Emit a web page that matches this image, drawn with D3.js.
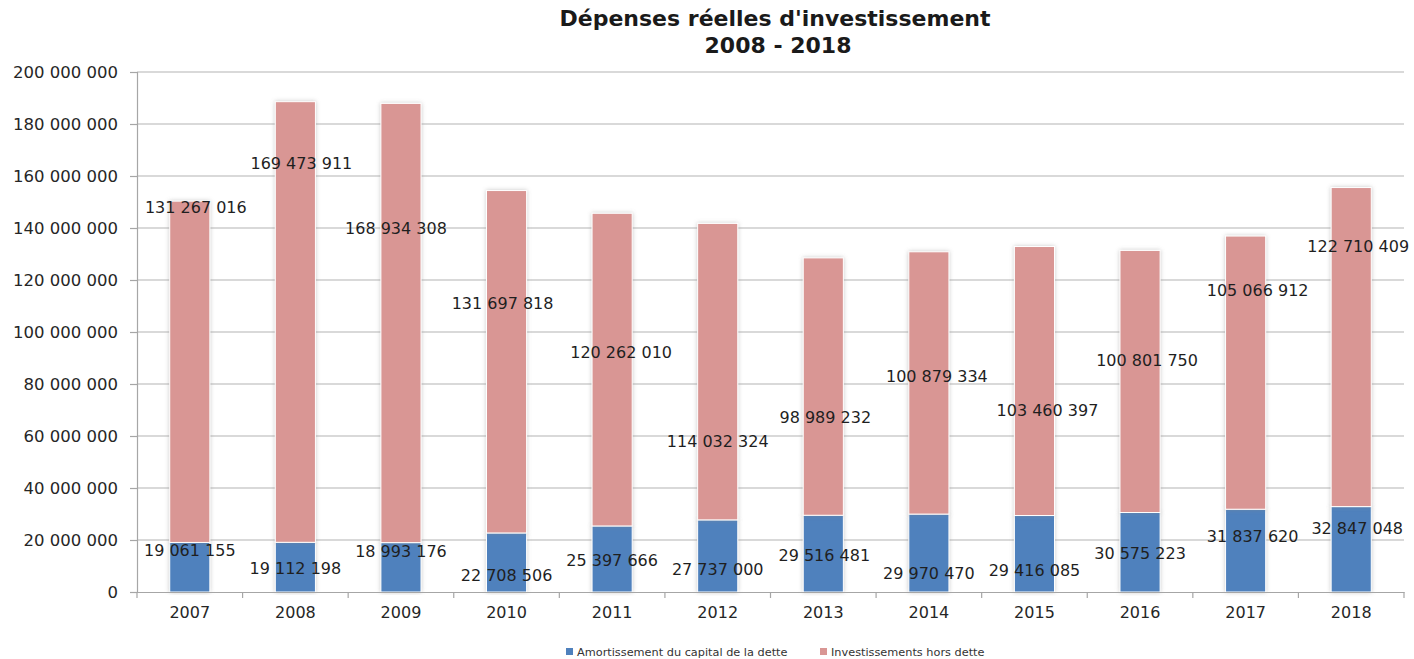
<!DOCTYPE html>
<html>
<head>
<meta charset="utf-8">
<script src="https://cdn.jsdelivr.net/npm/d3@7"></script>
<style>
    body { margin: 0; background: #fff; }
    svg { display: block; }
</style>
</head>
<body>
<script>
// Données
const annees = ["2007", "2008", "2009", "2010", "2011", "2012", "2013", "2014", "2015", "2016", "2017", "2018"];
const amortissement = [19061155, 19112198, 18993176, 22708506, 25397666, 27737000, 29516481, 29970470, 29416085, 30575223, 31837620, 32847048];
const investissements = [131267016, 169473911, 168934308, 131697818, 120262010, 114032324, 98989232, 100879334, 103460397, 100801750, 105066912, 122710409];
const graduations = [0, 20000000, 40000000, 60000000, 80000000, 100000000, 120000000, 140000000, 160000000, 180000000, 200000000];
const series = ["Amortissement du capital de la dette", "Investissements hors dette"];

// position des étiquettes (déplacées à la main dans l'original), en unités de l'axe
const posEtiqInvest = [148e6, 165e6, 140e6, 111e6, 92e6, 58e6, 67e6, 83e6, 70e6, 89e6, 116e6, 133e6];
const decalEtiqInvest = [6, 6, -5, -4, 9, 0, 2, 8, 13, 7, 12, 7];
const posEtiqAmort = [15.8e6, 9.2e6, 15.4e6, 6.2e6, 12.3e6, 8.8e6, 14.2e6, 7.3e6, 8.1e6, 15e6, 21.5e6, 24.6e6];
const decalEtiqAmort = [0, 0, 0, 0, 0, 0, 1, 0, 0, 0, 7, 6];

const WIDTH = 1414;
const HEIGHT = 659;
const MARGIN = { top: 72, right: 10, bottom: 67, left: 137 };
const COULEURS = ["#4f81bd", "#d99694"];
const POLICE = "'DejaVu Sans', Verdana, sans-serif";

const locale = d3.formatLocale({ decimal: ",", thousands: " ", grouping: [3], currency: ["", " €"] });
const fmt = locale.format(",");

const svg = d3.select("body")
    .append("svg")
    .attr("width", WIDTH)
    .attr("height", HEIGHT)
    .style("font-family", POLICE);

const defs = svg.append("defs");
defs.append("filter")
    .attr("id", "ombre")
    .attr("x", "-30%").attr("y", "-5%").attr("width", "160%").attr("height", "110%")
    .append("feDropShadow")
    .attr("dx", 0).attr("dy", 0)
    .attr("stdDeviation", 2)
    .attr("flood-color", "#888")
    .attr("flood-opacity", 0.45);

const x = d3.scaleBand()
    .domain(annees)
    .range([MARGIN.left, WIDTH - MARGIN.right])
    .paddingInner(0.62)
    .paddingOuter(0.31);

const y = d3.scaleLinear()
    .domain([0, 200000000])
    .range([HEIGHT - MARGIN.bottom, MARGIN.top]);

// Titre
const titre = svg.append("text")
    .attr("x", 776)
    .attr("text-anchor", "middle")
    .attr("font-weight", "bold")
    .attr("font-size", 22)
    .attr("fill", "#1a1a1a");
titre.append("tspan").attr("x", 775).attr("y", 26).text("Dépenses réelles d'investissement");
titre.append("tspan").attr("x", 778).attr("y", 53).text("2008 - 2018");

// Grille horizontale
svg.append("g")
    .selectAll("line")
    .data(graduations.filter(d => d > 0))
    .join("line")
    .attr("x1", MARGIN.left)
    .attr("x2", WIDTH - MARGIN.right)
    .attr("y1", d => y(d))
    .attr("y2", d => y(d))
    .attr("stroke", "#b3b3b3")
    .attr("stroke-width", 1.2);

// Axe Y
const axeY = svg.append("g")
    .attr("transform", `translate(${MARGIN.left},0)`)
    .call(d3.axisLeft(y).tickValues(graduations).tickFormat(fmt).tickSize(7).tickPadding(12));
axeY.select(".domain").attr("stroke", "#a6a6a6").attr("stroke-width", 1.2);
axeY.selectAll(".tick line").attr("stroke", "#a6a6a6").attr("stroke-width", 1.2);
axeY.selectAll("text").attr("font-size", 16.5).attr("fill", "#262626").attr("font-family", POLICE);

// Barres empilées
const donnees = annees.map((a, i) => ({ annee: a, amort: amortissement[i], invest: investissements[i] }));
const pile = d3.stack().keys(["amort", "invest"])(donnees);

const groupes = svg.append("g")
    .selectAll("g")
    .data(pile)
    .join("g")
    .attr("fill", (d, i) => COULEURS[i]);

groupes.selectAll("rect")
    .data(d => d)
    .join("rect")
    .attr("x", d => x(d.data.annee))
    .attr("width", x.bandwidth())
    .attr("y", d => y(d[1]))
    .attr("height", d => y(d[0]) - y(d[1]))
    .attr("stroke", "#fff")
    .attr("stroke-width", 1)
    .attr("filter", "url(#ombre)");

// Axe X
const axeX = svg.append("g")
    .attr("transform", `translate(0,${y(0)})`)
    .call(d3.axisBottom(x).tickSize(0).tickPadding(15));
axeX.select(".domain").attr("stroke", "#a6a6a6").attr("stroke-width", 1.2);
axeX.selectAll("text").attr("font-size", 16).attr("fill", "#262626").attr("font-family", POLICE);

// petits traits entre catégories
const pas = x.step();
svg.append("g")
    .selectAll("line")
    .data(d3.range(annees.length + 1))
    .join("line")
    .attr("x1", i => MARGIN.left + i * pas)
    .attr("x2", i => MARGIN.left + i * pas)
    .attr("y1", y(0))
    .attr("y2", y(0) + 6)
    .attr("stroke", "#a6a6a6")
    .attr("stroke-width", 1.2);

// Étiquettes de valeurs
const etiquettes = svg.append("g")
    .attr("font-size", 16)
    .attr("fill", "#1f1f1f")
    .attr("text-anchor", "middle")
    .attr("dominant-baseline", "central");

etiquettes.selectAll("text.invest")
    .data(donnees)
    .join("text")
    .attr("class", "invest")
    .attr("x", (d, i) => x(d.annee) + x.bandwidth() / 2 + decalEtiqInvest[i])
    .attr("y", (d, i) => y(posEtiqInvest[i]))
    .text(d => fmt(d.invest));

etiquettes.selectAll("text.amort")
    .data(donnees)
    .join("text")
    .attr("class", "amort")
    .attr("x", (d, i) => x(d.annee) + x.bandwidth() / 2 + decalEtiqAmort[i])
    .attr("y", (d, i) => y(posEtiqAmort[i]))
    .text(d => fmt(d.amort));

// Légende
const legende = svg.append("g")
    .attr("transform", "translate(566,652)")
    .attr("font-size", 11.3)
    .attr("fill", "#333");

const posLegende = [0, 254];
legende.selectAll("g")
    .data(series)
    .join("g")
    .attr("transform", (d, i) => `translate(${posLegende[i]},0)`)
    .each(function (d, i) {
        const g = d3.select(this);
        g.append("rect")
            .attr("x", 0).attr("y", -4)
            .attr("width", 7).attr("height", 7)
            .attr("fill", COULEURS[i]);
        g.append("text")
            .attr("x", 11)
            .attr("dominant-baseline", "central")
            .text(d);
    });
</script>
</body>
</html>
